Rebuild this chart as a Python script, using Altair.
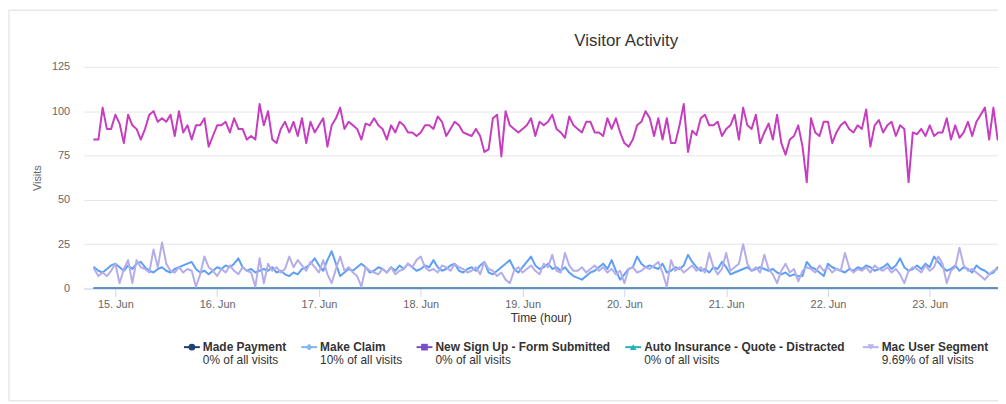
import altair as alt
import pandas as pd

# ---------------- data (hourly, starting 14 Jun 19:00) ----------------
START = "2019-06-14 19:00"

new_sign_up = [
    84, 84, 102, 90, 90, 98, 93, 82, 98, 92,
    90, 84, 90, 98, 100, 94, 96, 94, 98, 86,
    100, 88, 92, 84, 92, 92, 96, 80, 86, 92,
    92, 94, 88, 96, 90, 90, 84, 86, 84, 104,
    92, 100, 84, 82, 90, 94, 88, 94, 86, 96,
    82, 94, 88, 92, 96, 80, 92, 96, 102, 90,
    94, 92, 90, 84, 93, 92, 96, 92, 90, 84,
    92, 88, 94, 92, 88, 88, 86, 88, 92, 92,
    90, 97, 94, 86, 90, 94, 92, 88, 87, 86,
    90, 86, 77, 78.5, 96, 98, 74.5, 100, 92, 90,
    88, 90, 92, 96, 86, 94, 92, 94, 98, 90,
    88, 85, 97, 92, 90, 88, 94, 94, 88, 88,
    86, 96, 90, 96, 88, 82, 80, 84, 92, 94,
    100, 96, 86, 96, 84, 96, 82, 82, 92, 104,
    77, 89, 86.5, 96, 98, 92, 92, 94, 86, 90,
    92, 98, 84, 102, 92, 90, 98, 82, 88, 93,
    84, 98, 82, 75.5, 84, 86, 92, 80, 60, 96,
    88, 86, 94, 94, 82, 88, 92, 94, 90, 88,
    92, 90, 101, 80, 92, 95, 88, 92, 94, 86,
    92, 90, 60, 88, 87, 90, 86, 92, 86, 88,
    88, 96, 84, 92, 85, 88, 94, 86, 94, 98,
    102, 84, 102, 84,
]

make_claim = [
    12, 10, 9, 11, 13, 14, 12, 10, 13, 11,
    14, 15, 12, 10, 9, 11, 12, 10, 9, 11,
    12, 13, 14, 15, 11, 9, 10, 8, 10, 12,
    11, 13, 12, 14, 17, 12, 10, 11, 9, 10,
    11, 10, 12, 9, 10, 8, 7, 9, 8, 11,
    12, 14, 17, 13, 10, 16, 21, 14, 7, 9,
    11, 10, 12, 14, 12, 9, 10, 12, 11, 9,
    12, 10, 13, 11, 14, 12, 10, 11, 13, 12,
    16, 12, 10, 11, 13, 14, 10, 9, 11, 12,
    10, 13, 15, 9, 8, 10, 12, 14, 16, 11,
    9, 12, 15, 18, 13, 11, 12, 14, 11, 12,
    10, 12, 9, 7, 6, 5, 7, 9, 10, 12,
    14, 11, 16, 10, 5, 8, 11, 12, 18, 14,
    12, 13, 12, 11, 14, 9, 10, 12, 11, 13,
    19, 15, 12, 10, 11, 9, 12, 11, 15, 12,
    8, 9, 10, 11, 12, 10, 11, 12, 11, 10,
    11, 9, 8, 9, 7, 8, 7, 7, 15, 12,
    11, 9, 7, 14, 12, 11, 10, 9, 11, 10,
    12, 11, 13, 12, 10, 11, 12, 14, 11, 13,
    17, 12, 10, 11, 13, 11, 14, 12, 18, 15,
    12, 10, 11, 13, 10, 12, 11, 9, 13, 11,
    10, 8, 9, 12,
]

mac_user = [
    11, 7, 9, 7, 10, 14, 3, 11, 16, 3,
    16, 12, 11, 9, 22, 12, 26, 14, 10, 9,
    12, 9, 11, 10, 1, 8, 18, 12, 10, 7,
    11, 9, 13, 10, 8, 12, 10, 9, 1, 17,
    3, 14, 10, 12, 9, 11, 18, 12, 16, 13,
    10, 15, 12, 9, 16, 8, 3, 11, 18, 10,
    12, 9, 7, 1, 12, 10, 9, 8, 11, 9,
    12, 8, 10, 11, 14, 12, 16, 18, 12, 10,
    11, 9, 13, 12, 10, 14, 12, 11, 9, 10,
    12, 8, 15, 11, 10, 7, 9, 5, 3, 10,
    12, 9, 11, 13, 10, 8, 14, 12, 19, 10,
    9, 20, 13, 10, 10, 12, 9, 11, 13, 10,
    12, 9, 11, 8, 10, 3, 11, 12, 9, 10,
    12, 11, 13, 15, 9, 1, 16, 10, 12, 9,
    11, 13, 10, 12, 9, 20, 12, 8, 11, 20,
    10, 12, 14, 25, 14, 10, 12, 9, 19, 11,
    8, 3, 10, 14, 9, 11, 4, 10, 12, 11,
    9, 13, 10, 12, 9, 11, 10, 20, 12, 9,
    11, 10, 12, 9, 13, 11, 10, 12, 9, 11,
    8, 3, 10, 12, 11, 9, 13, 10, 12, 18,
    14, 3, 10, 12, 23, 13, 10, 11, 9, 7,
    5, 8, 10, 11,
]

made_payment = [0] * len(new_sign_up)
auto_insurance = [0] * len(new_sign_up)

series_names = [
    "Made Payment",
    "Make Claim",
    "New Sign Up - Form Submitted",
    "Auto Insurance - Quote - Distracted",
    "Mac User Segment",
]
series_values = [made_payment, make_claim, new_sign_up, auto_insurance, mac_user]
share_labels = [
    "0% of all visits",
    "10% of all visits",
    "0% of all visits",
    "0% of all visits",
    "9.69% of all visits",
]
line_colors = ["#1f3f6e", "#5f9ff5", "#c63dbf", "#3a8dc4", "#b3aeea"]
legend_colors = ["#1f3f6e", "#7fb6f5", "#7a4ec9", "#26b3b3", "#b7b3ee"]
legend_shapes = ["circle", "diamond", "square", "triangle-up", "triangle-down"]
y_ticks = [0, 25, 50, 75, 100, 125]
chart_title = "Visitor Activity"

FONT = "Liberation Sans"
W, H = 920, 223

frames = []
for name, vals in zip(series_names, series_values):
    t = pd.date_range(START, periods=len(vals), freq="h")
    frames.append(pd.DataFrame({
        "time": t.strftime("%Y-%m-%dT%H:%M:%S"),
        "visits": vals,
        "series": name,
    }))

x_scale = alt.Scale(domain=[
    alt.DateTime(year=2019, month=6, date=14, hours=16, minutes=30),
    alt.DateTime(year=2019, month=6, date=23, hours=16, minutes=5),
])
y_scale = alt.Scale(domain=[0, 125])

x_axis = alt.Axis(format="%-d. %b", tickCount={"interval": "day", "step": 1},
                  grid=False, domainColor="#ccd6eb", tickColor="#ccd6eb",
                  tickSize=8, labelPadding=2, labelFontSize=11,
                  labelColor="#666666", labelFont=FONT,
                  title="Time (hour)", titleFont=FONT, titleFontSize=12,
                  titleFontWeight="normal", titleColor="#333333",
                  titlePadding=3)
y_axis = alt.Axis(values=y_ticks, grid=True, gridColor="#e6e6e6",
                  domain=False, ticks=False, labelPadding=14,
                  labelFontSize=11, labelColor="#666666", labelFont=FONT,
                  title="Visits", titleFont=FONT, titleFontSize=11,
                  titleFontWeight="normal", titleColor="#666666",
                  titlePadding=9)

one = pd.DataFrame({"k": [0]})

# faint container frame around the chart
layers = [
    alt.Chart(one).mark_rect(fillOpacity=0, stroke="#dcdcdc", strokeWidth=1).encode(
        x=alt.value(-75), x2=alt.value(W + 40), y=alt.value(-57), y2=alt.value(336)),
    alt.Chart(one).mark_text(text=chart_title, align="center", baseline="middle",
                             font=FONT, fontSize=17, color="#333333").encode(
        x=alt.value(546), y=alt.value(-26)),
]

for df, col in zip(frames, line_colors):
    layers.append(
        alt.Chart(df).mark_line(color=col, strokeWidth=2, clip=True,
                                strokeJoin="round", strokeCap="round")
        .encode(x=alt.X("time:T", scale=x_scale, axis=x_axis),
                y=alt.Y("visits:Q", scale=y_scale, axis=y_axis))
    )

# ---------------- custom two-line legend ----------------
text_x = [120, 238, 354, 564, 803]   # left edge of each legend label (plot coords)
name_y, sub_y = 282, 295
for name, share, col, shape, tx in zip(series_names, share_labels, legend_colors,
                                       legend_shapes, text_x):
    layers.append(alt.Chart(one).mark_rule(color=col, strokeWidth=2).encode(
        x=alt.value(tx - 19), x2=alt.value(tx - 3), y=alt.value(name_y)))
    layers.append(alt.Chart(one).mark_point(filled=True, opacity=1, color=col,
                                            shape=shape, size=45).encode(
        x=alt.value(tx - 11), y=alt.value(name_y)))
    layers.append(alt.Chart(one).mark_text(text=name, align="left", baseline="middle",
                                           font=FONT, fontSize=12, fontWeight="bold",
                                           color="#333333").encode(
        x=alt.value(tx), y=alt.value(name_y)))
    layers.append(alt.Chart(one).mark_text(text=share, align="left", baseline="middle",
                                           font=FONT, fontSize=12, color="#333333").encode(
        x=alt.value(tx), y=alt.value(sub_y)))

chart = alt.layer(*layers).properties(
    width=W, height=H,
    autosize=alt.AutoSizeParams(type="none"),
    padding={"left": 76, "top": 58, "right": 0, "bottom": 114},
    background="white",
).configure_view(stroke=None)

chart.save("out.html", embed_options={"renderer": "svg", "actions": False})
